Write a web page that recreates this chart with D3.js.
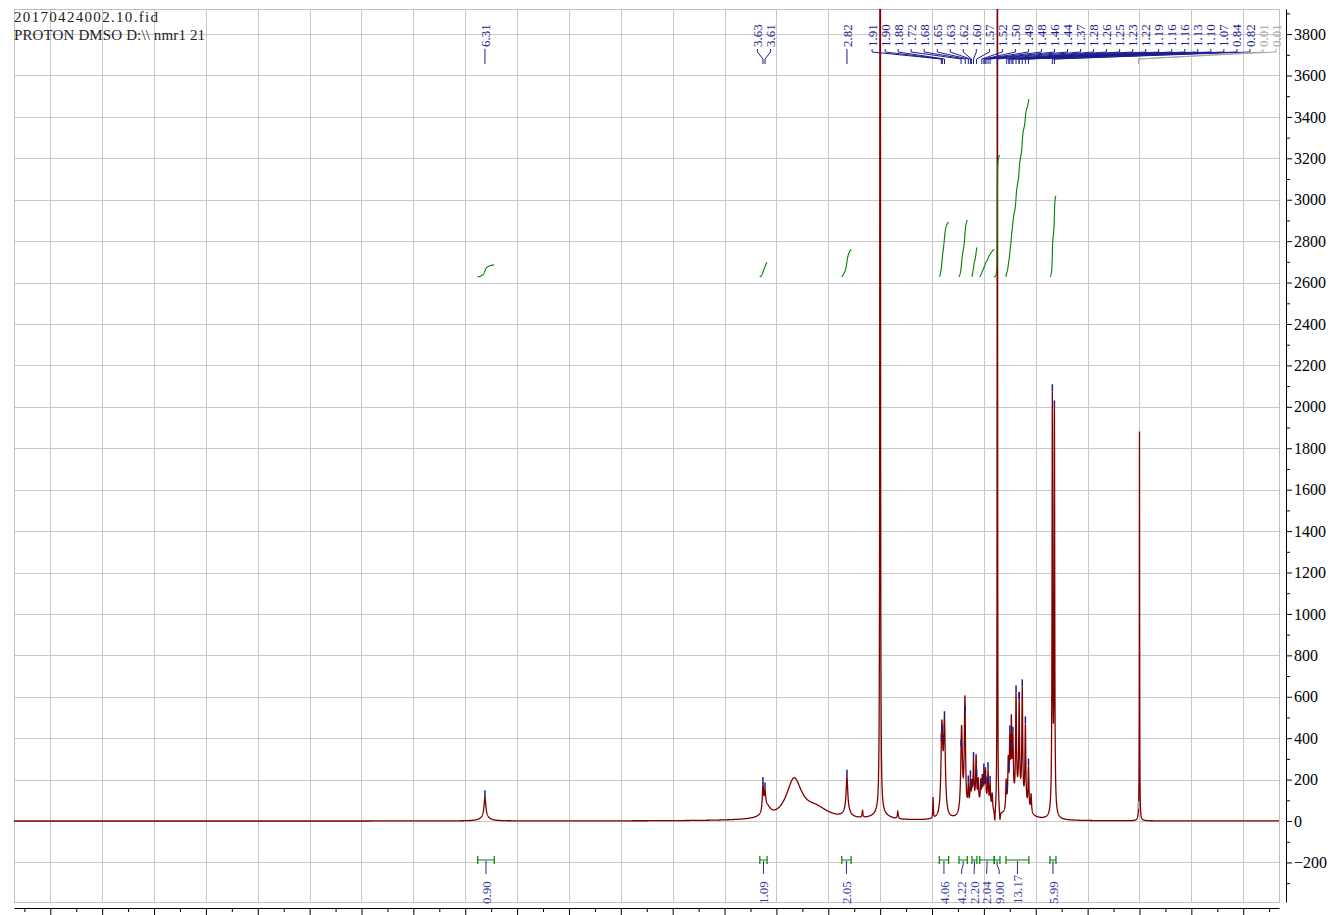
<!DOCTYPE html>
<html>
<head>
<meta charset="utf-8">
<script src="https://cdn.jsdelivr.net/npm/d3@7"></script>
<style>
  body { margin: 0; background: #fff; }
  svg { display: block; }
</style>
</head>
<body>
<svg id="chart" width="1339" height="915"></svg>
<script>
// header lines (top left)
var titleLines = ["20170424002.10.fid", "PROTON DMSO D:\\\\ nmr1 21"];

// spectrum lines: centre (ppm), height, half width (ppm)
var linePpm    = [6.31, 6.31, 3.63, 3.61, 3.59, 3.33, 3.12, 2.82, 2.82, 2.67, 2.50, 2.50, 2.33, 1.99,
                  1.905, 1.88, 1.715, 1.683, 1.65, 1.63, 1.615, 1.60, 1.575, 1.555, 1.58,
                  1.53, 1.515, 1.50, 1.485, 1.46, 1.44, 1.42, 1.48, 1.37, 1.395, 1.345,
                  1.285, 1.265, 1.25, 1.235, 1.22, 1.19, 1.16, 1.13, 1.10, 1.07, 1.045, 1.17,
                  0.84, 0.82, 0.83, 0.00];
var lineHeight = [95, 20, 125, 80, 45, 190, 50, 160, 35, 35, 20000, 30, 35, 100,
                  420, 430, 420, 550, 110, 130, 100, 200, 220, 110, 60,
                  110, 120, 130, 150, 160, 110, 80, 60, 12000, -60, -50,
                  140, 220, 300, 380, 280, 490, 450, 540, 390, 210, 90, 100,
                  1980, 1900, 40, 1880];
var lineHwhm   = [0.010, 0.045, 0.007, 0.008, 0.04, 0.09, 0.15, 0.009, 0.035, 0.004, 0.0015, 0.08, 0.005, 0.003,
                  0.010, 0.010, 0.009, 0.007, 0.005, 0.005, 0.005, 0.005, 0.005, 0.005, 0.05,
                  0.005, 0.005, 0.005, 0.005, 0.005, 0.005, 0.005, 0.05, 0.0012, 0.005, 0.005,
                  0.005, 0.005, 0.005, 0.005, 0.005, 0.005, 0.005, 0.005, 0.005, 0.005, 0.005, 0.07,
                  0.0035, 0.0035, 0.02, 0.0018];

// peak picking labels (last two are the reference, drawn grey)
var pickPpm  = [6.31, 3.63, 3.61, 2.82, 1.91, 1.90, 1.88, 1.72, 1.68, 1.65, 1.63, 1.62, 1.60, 1.57,
                1.52, 1.50, 1.49, 1.48, 1.46, 1.44, 1.37, 1.28, 1.26, 1.25, 1.23, 1.22, 1.19, 1.16,
                1.16, 1.13, 1.10, 1.07, 0.84, 0.82, 0.01, 0.01];

// integrals: from / to (ppm) and value
var intFrom  = [6.38, 3.66, 2.87, 1.93, 1.74, 1.615, 1.54, 1.40, 1.287, 0.863];
var intTo    = [6.22, 3.59, 2.78, 1.84, 1.66, 1.567, 1.40, 1.345, 1.066, 0.805];
var intValue = [0.90, 1.09, 2.05, 4.06, 4.22, 2.20, 2.04, 9.00, 13.17, 5.99];

// axis ticks
var yTicks = d3.range(-200, 3801, 200);
var yMinor = d3.range(-300, 3901, 200);
var xTicks = d3.range(-1, 10.51, 0.5);
var xMinor = d3.range(-1.25, 10.8, 0.5);

var svg = d3.select("#chart");
var plotL = 14, plotR = 1279, plotT = 9, plotB = 902;

var x = d3.scaleLinear().domain([10.85, -1.345]).range([plotL, plotR]);
var y = d3.scaleLinear().domain([-391, 3921]).range([plotB, plotT]);
// integral curves use their own scale (same baseline for all)
var yInt = d3.scaleLinear().domain([0, 13.17]).range([277, 99]);

function spec(p) {
  var s = 0;
  for (var i = 0; i < linePpm.length; i++) {
    var u = (p - linePpm[i]) / lineHwhm[i];
    s += lineHeight[i] / (1 + u * u);
  }
  return s;
}

// grid
var grid = svg.append("g").attr("stroke", "#c8c8c8").attr("stroke-width", 1);
grid.selectAll("line.v").data(xTicks).enter().append("line")
  .attr("x1", function(d) { return Math.round(x(d)) + 0.5; })
  .attr("x2", function(d) { return Math.round(x(d)) + 0.5; })
  .attr("y1", plotT).attr("y2", plotB);
grid.selectAll("line.h").data(yTicks).enter().append("line")
  .attr("x1", plotL).attr("x2", plotR)
  .attr("y1", function(d) { return Math.round(y(d)) + 0.5; })
  .attr("y2", function(d) { return Math.round(y(d)) + 0.5; });
svg.append("rect").attr("x", plotL + 0.5).attr("y", plotT + 0.5)
  .attr("width", plotR - plotL).attr("height", plotB - plotT)
  .attr("fill", "none").attr("stroke", "#c0c0c0");

svg.append("defs").append("clipPath").attr("id", "plot")
  .append("rect").attr("x", plotL).attr("y", plotT).attr("width", plotR - plotL).attr("height", plotB - plotT);

// spectrum
var pts = [];
for (var i = 10850; i >= -1345; i--) {
  var p = i / 1000;
  pts.push([p, spec(p)]);
}
var line = d3.line().x(function(d) { return x(d[0]); }).y(function(d) { return y(d[1]); });
svg.append("path").datum(pts)
  .attr("clip-path", "url(#plot)")
  .attr("fill", "none").attr("stroke", "#800000").attr("stroke-width", 1.3)
  .attr("d", line);

// integral curves
var iline = d3.line().x(function(d) { return x(d[0]); }).y(function(d) { return yInt(d[1]); });
intFrom.forEach(function(f, k) {
  var t = intTo[k], seg = [], c = 0;
  for (var p = f; p >= t; p -= 0.001) { c += Math.max(spec(p), 0); seg.push([p, c]); }
  seg.forEach(function(d) { d[1] = d[1] / c * intValue[k]; });
  seg.unshift([f, 0]);
  svg.append("path").datum(seg)
    .attr("fill", "none").attr("stroke", "#008000").attr("stroke-width", 1.1)
    .attr("d", iline);
});

// label spreading: push right, bound at right, recentre free groups
function spread(ideal, gap, maxX) {
  var n = ideal.length, pos = ideal.slice();
  for (var i = 1; i < n; i++) pos[i] = Math.max(pos[i], pos[i - 1] + gap);
  if (pos[n - 1] > maxX) pos[n - 1] = maxX;
  for (var j = n - 2; j >= 0; j--) pos[j] = Math.min(pos[j], pos[j + 1] - gap);
  var g0 = 0;
  for (var k = 1; k <= n; k++) {
    if (k === n || pos[k] - pos[k - 1] > gap + 0.01) {
      if (k - g0 > 1 && pos[k - 1] < maxX - 0.5) {
        var m = d3.mean(ideal.slice(g0, k)), pm = d3.mean(pos.slice(g0, k));
        for (var q = g0; q < k; q++) pos[q] += m - pm;
      }
      g0 = k;
    }
  }
  return pos;
}

var blue = "#1c1c8e", grey = "#a6a6a6";
var pickX = pickPpm.map(function(d) { return x(d); });
var labX = spread(pickX, 13.03, 1276);
var picks = svg.append("g");
pickPpm.forEach(function(d, i) {
  var col = (i >= pickPpm.length - 2) ? grey : blue;
  var px = pickX[i], lx = labX[i];
  picks.append("path")
    .attr("d", "M" + lx + ",49L" + lx + ",52L" + px + ",59L" + px + ",64")
    .attr("fill", "none").attr("stroke", col).attr("stroke-width", 1);
  picks.append("text")
    .attr("transform", "translate(" + lx + ",47) rotate(-90)")
    .attr("dy", "0.35em")
    .attr("font-family", "Liberation Serif, serif").attr("font-size", 13)
    .attr("fill", col)
    .text(d3.format(".2f")(d));
  var v = spec(d);
  if (y(v) > 20) {
    picks.append("line").attr("x1", px).attr("x2", px)
      .attr("y1", y(v) - 7).attr("y2", y(v))
      .attr("stroke", col).attr("stroke-width", 1.5);
  }
});

// integral brackets and labels
var intCx = intFrom.map(function(f, k) { return (x(f) + x(intTo[k])) / 2; });
var intLx = spread(intCx, 12.5, 1276);
var ints = svg.append("g");
intFrom.forEach(function(f, k) {
  var x1 = x(f), x2 = x(intTo[k]), cx = intCx[k], lx = intLx[k];
  ints.append("path")
    .attr("d", "M" + x1 + ",856L" + x1 + ",864M" + x1 + ",860L" + x2 + ",860M" + x2 + ",856L" + x2 + ",864")
    .attr("fill", "none").attr("stroke", "#008000").attr("stroke-width", 1.2);
  ints.append("path")
    .attr("d", "M" + cx + ",861L" + cx + ",865L" + lx + ",870L" + lx + ",874")
    .attr("fill", "none").attr("stroke", "#2a2a96").attr("stroke-width", 1);
  ints.append("text")
    .attr("transform", "translate(" + lx + ",904) rotate(-90)")
    .attr("dy", "0.35em")
    .attr("font-family", "Liberation Serif, serif").attr("font-size", 13)
    .attr("fill", "#3c3ca6")
    .text(d3.format(".2f")(intValue[k]));
});

// right axis
var yAxisG = svg.append("g").attr("transform", "translate(1286,0)");
yAxisG.call(d3.axisRight(y).tickValues(yTicks).tickSize(6).tickSizeOuter(0).tickPadding(2).tickFormat(d3.format("d")));
yAxisG.append("g").call(d3.axisRight(y).tickValues(yMinor).tickSize(4).tickSizeOuter(0).tickFormat(""))
  .select(".domain").remove();
yAxisG.selectAll("text").attr("font-family", "Liberation Serif, serif").attr("font-size", 16).attr("fill", "#000");
yAxisG.selectAll("path,line").attr("stroke", "#000");

// bottom axis (labels fall below the frame)
var xAxisG = svg.append("g").attr("transform", "translate(0,908)");
xAxisG.call(d3.axisBottom(x).tickValues(xTicks).tickSize(8).tickSizeOuter(0).tickFormat(""));
xAxisG.append("g").call(d3.axisBottom(x).tickValues(xMinor).tickSize(4).tickSizeOuter(0).tickFormat(""))
  .select(".domain").remove();
xAxisG.selectAll("path,line").attr("stroke", "#000");

// header text (serif, spread to the reference widths)
var titleWidths = [144, 191];
svg.selectAll("text.title").data(titleLines).enter().append("text")
  .attr("x", 14).attr("y", function(d, i) { return 22 + i * 18; })
  .attr("font-family", "Liberation Serif, serif").attr("font-size", 15)
  .attr("textLength", function(d, i) { return titleWidths[i]; })
  .attr("lengthAdjust", "spacing")
  .attr("fill", "#222")
  .text(function(d) { return d; });
</script>
</body>
</html>
